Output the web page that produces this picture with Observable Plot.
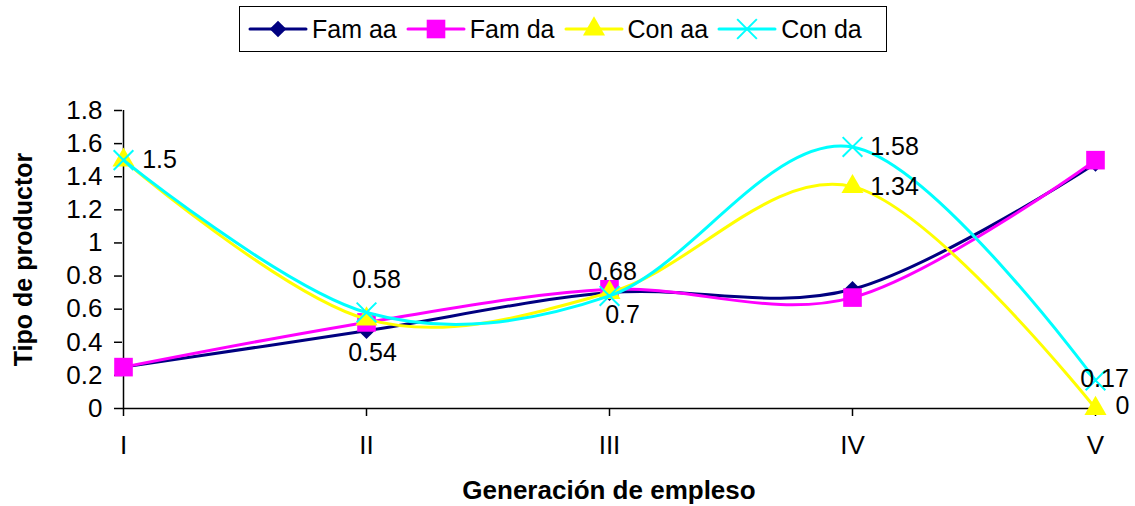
<!DOCTYPE html>
<html>
<head>
<meta charset="utf-8">
<script src="https://cdn.jsdelivr.net/npm/d3@7"></script>
<script src="https://cdn.jsdelivr.net/npm/@observablehq/plot@0.6"></script>
<style>
  html, body { margin: 0; padding: 0; background: #fff; }
  body { width: 1135px; height: 506px; overflow: hidden; font-family: "Liberation Sans", Arial, sans-serif; }
  #legend { position: relative; height: 60px; }
  #legend .box { position: absolute; left: 239px; top: 6px; width: 648px; height: 46px; border: 1.5px solid #000; box-sizing: border-box; display: flex; align-items: center; padding-left: 8px; white-space: nowrap; }
  #legend .item { display: flex; align-items: center; margin-right: 9px; flex-shrink: 0; white-space: nowrap; }
  #legend .item span { font-size: 25px; margin-left: 4px; color: #000; white-space: nowrap; }
  #legend svg { display: block; flex-shrink: 0; }
</style>
</head>
<body>
<div id="legend"><div class="box"></div></div>
<div id="chart"></div>
<script>
// ---- data ----
const categories = ["I", "II", "III", "IV", "V"];
const seriesNames = ["Fam aa", "Fam da", "Con aa", "Con da"];
const famAA = [0.25, 0.47, 0.70, 0.72, 1.48];
const famDA = [0.25, 0.52, 0.72, 0.67, 1.50];
const conAA = [1.50, 0.54, 0.70, 1.34, 0];
const conDA = [1.50, 0.58, 0.68, 1.58, 0.17];
const yTicks = [0, 0.2, 0.4, 0.6, 0.8, 1, 1.2, 1.4, 1.6, 1.8];
// data labels: which series / category is labelled
const labelSeries = ["Con da", "Con da", "Con aa", "Con da", "Con aa", "Con da", "Con aa", "Con da", "Con aa"];
const labelCats   = ["I", "II", "II", "III", "III", "IV", "IV", "V", "V"];

// ---- styles ----
const colors = {"Fam aa": "#000080", "Fam da": "#FF00FF", "Con aa": "#FFFF00", "Con da": "#00FFFF"};
const symbols = {"Fam aa": "diamond2", "Fam da": "square", "Con aa": "triangle", "Con da": "times"};
const radii = {"Fam aa": 7.5, "Fam da": 10.5, "Con aa": 8.2, "Con da": 9};
const labelDx = [36, 10, 6, 3, 13, 42, 42, 9, 27];
const labelDy = [0, -32, 34, -24, 22, 0, 0, -1, -3];

const valuesBySeries = {"Fam aa": famAA, "Fam da": famDA, "Con aa": conAA, "Con da": conDA};
const rows = seriesNames.flatMap(s => categories.map((c, i) => ({series: s, cat: c, value: valuesBySeries[s][i]})));
const labels = labelSeries.map((s, k) => {
  const i = categories.indexOf(labelCats[k]);
  return {series: s, cat: labelCats[k], value: valuesBySeries[s][i], dx: labelDx[k], dy: labelDy[k]};
});

const marks = [
  Plot.ruleY([0], {stroke: "#000", strokeWidth: 1.5}),
  Plot.ruleX([categories[0]], {stroke: "#000", strokeWidth: 1.5}),
  Plot.axisX({tickSize: 8, tickPadding: 19, stroke: "#000", strokeWidth: 1.5}),
  Plot.axisY({ticks: yTicks, tickSize: 8, tickPadding: 12, stroke: "#000", strokeWidth: 1.5,
              tickFormat: d => String(+d.toFixed(1))}),
];
for (const s of seriesNames) {
  const data = rows.filter(r => r.series === s);
  marks.push(Plot.line(data, {x: "cat", y: "value", stroke: colors[s], strokeWidth: 3, curve: "cardinal"}));
  const isStroke = symbols[s] === "times";
  marks.push(Plot.dot(data, {x: "cat", y: "value", symbol: () => symbols[s], r: radii[s],
    fill: isStroke ? "none" : colors[s], stroke: isStroke ? colors[s] : "none", strokeWidth: isStroke ? 2 : 0}));
}
for (const l of labels) {
  marks.push(Plot.text([l], {x: "cat", y: "value", text: d => String(d.value), dx: l.dx, dy: l.dy,
    fontSize: 25, fill: "#000", textAnchor: "middle", lineAnchor: "middle"}));
}
marks.push(Plot.text(["Tipo de productor"], {frameAnchor: "left", rotate: -90, dx: -99, fontWeight: "bold",
  fontSize: 25, textAnchor: "middle", lineAnchor: "middle", fill: "#000"}));
marks.push(Plot.text(["Generación de empleso"], {frameAnchor: "bottom", dy: 82, fontWeight: "bold",
  fontSize: 26, textAnchor: "middle", lineAnchor: "middle", fill: "#000"}));

const chart = Plot.plot({
  width: 1135,
  height: 446,
  marginTop: 50,
  marginBottom: 98,
  marginLeft: 122,
  marginRight: 40,
  style: {fontSize: "26px", fontFamily: "'Liberation Sans', Arial, sans-serif", color: "#000", background: "#fff"},
  x: {type: "point", domain: categories, padding: 0, label: null},
  y: {domain: [0, 1.8], label: null},
  marks
});
document.getElementById("chart").appendChild(chart);

// ---- legend ----
const box = document.querySelector("#legend .box");
for (const s of seriesNames) {
  const item = document.createElement("div");
  item.className = "item";
  const svg = d3.create("svg").attr("width", 60).attr("height", 30);
  svg.append("line").attr("x1", 2).attr("x2", 58).attr("y1", 15).attr("y2", 15)
    .attr("stroke", colors[s]).attr("stroke-width", 3).attr("stroke-linecap", "round");
  const symMap = {diamond2: d3.symbolDiamond2, square: d3.symbolSquare, triangle: d3.symbolTriangle, times: d3.symbolTimes};
  const size = Math.PI * radii[s] * radii[s];
  const isStroke = symbols[s] === "times";
  svg.append("path").attr("transform", "translate(30,15)")
    .attr("d", d3.symbol(symMap[symbols[s]], size)())
    .attr("fill", isStroke ? "none" : colors[s])
    .attr("stroke", isStroke ? colors[s] : "none")
    .attr("stroke-width", 2);
  item.appendChild(svg.node());
  const span = document.createElement("span");
  span.textContent = s;
  item.appendChild(span);
  box.appendChild(item);
}
</script>
</body>
</html>
